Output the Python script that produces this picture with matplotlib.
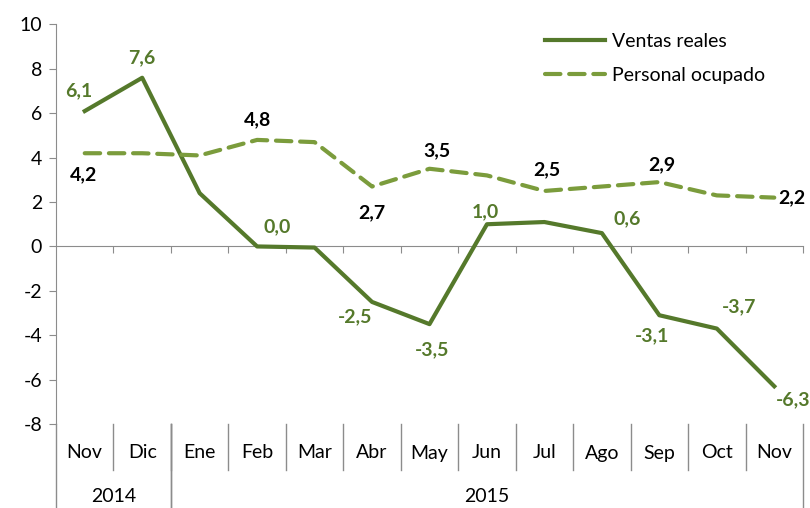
import matplotlib
matplotlib.use("Agg")
import matplotlib.pyplot as plt
from matplotlib.lines import Line2D

plt.rcParams['font.family'] = ['Lato', 'DejaVu Sans']
plt.rcParams['axes.unicode_minus'] = False

# datos
meses = ["Nov", "Dic", "Ene", "Feb", "Mar", "Abr", "May", "Jun", "Jul", "Ago", "Sep", "Oct", "Nov"]
anios = ["2014", "2015"]
meses_por_anio = [2, 11]
ventas = [6.1, 7.6, 2.4, 0.0, -0.05, -2.5, -3.5, 1.0, 1.1, 0.6, -3.1, -3.7, -6.3]
personal = [4.2, 4.2, 4.1, 4.8, 4.7, 2.7, 3.5, 3.2, 2.5, 2.7, 2.9, 2.3, 2.2]

# etiquetas visibles: indice -> desplazamiento en pixeles
et_ventas = {0: (-6, 20), 1: (0, 20), 3: (20, 20), 5: (-17, -15), 6: (3, -26),
             7: (-2, 12), 9: (25, 14), 10: (-7, -21), 11: (22, 22), 12: (19, -13)}
et_personal = {0: (-1, -22), 3: (0, 20), 5: (0, -26), 6: (7, 18), 8: (2, 21),
               10: (2, 17), 12: (18, 0)}

c_ventas = "#55792B"
c_personal = "#7B9C3C"
c_eje = "#8C8C8C"
fs = 14

fig = plt.figure(figsize=(8.1, 5.08), dpi=100)
ax = fig.add_axes([56 / 810, 1 - 424 / 508, 747 / 810, 399.5 / 508])

x = list(range(len(meses)))
ax.plot(x, ventas, color=c_ventas, lw=3, solid_joinstyle='round', clip_on=False, zorder=3)
ax.plot(x, personal, color=c_personal, lw=3, dashes=(3.7, 2.1), dash_capstyle='round',
        clip_on=False, zorder=3)

px = 72 / 100
for i, (dx, dy) in et_ventas.items():
    ax.annotate(f"{ventas[i]:.1f}".replace(".", ","), (i, ventas[i]),
                xytext=(dx * px, dy * px), textcoords='offset points',
                ha='center', va='center', fontsize=fs, fontweight='bold', color=c_ventas)
for i, (dx, dy) in et_personal.items():
    ax.annotate(f"{personal[i]:.1f}".replace(".", ","), (i, personal[i]),
                xytext=(dx * px, dy * px), textcoords='offset points',
                ha='center', va='center', fontsize=fs, fontweight='bold', color='black')

ax.set_xlim(-0.5, len(meses) - 0.5)
ax.set_ylim(-8, 10)
ax.set_yticks(range(-8, 11, 2))
ax.tick_params(axis='y', direction='out', length=5, color=c_eje, labelsize=fs, pad=5)
for s in ['top', 'right']:
    ax.spines[s].set_visible(False)
ax.spines['left'].set_color(c_eje)
ax.spines['bottom'].set_color(c_eje)
ax.spines['bottom'].set_position(('data', 0))
ax.set_xticks([b + 0.5 for b in range(len(meses))])
ax.tick_params(axis='x', direction='out', length=5, color=c_eje, labelbottom=False)

# eje de categorias en dos niveles
h = 399.5
for i, m in enumerate(meses):
    ax.text(i, -29 / h, m, transform=ax.get_xaxis_transform(), ha='center', va='center',
            fontsize=fs)
for b in range(1, len(meses)):
    ax.add_line(Line2D([b - 0.5, b - 0.5], [0, -46 / h], transform=ax.get_xaxis_transform(),
                       color=c_eje, lw=1, clip_on=False))
inicio = -0.5
for a, n in zip(anios, meses_por_anio):
    fin = inicio + n
    ax.text((inicio + fin) / 2, -73 / h, a, transform=ax.get_xaxis_transform(),
            ha='center', va='center', fontsize=fs)
    for xb in (inicio, fin):
        ax.add_line(Line2D([xb, xb], [0, -90 / h], transform=ax.get_xaxis_transform(),
                           color=c_eje, lw=1, clip_on=False))
    inicio = fin

handles = [Line2D([], [], color=c_ventas, lw=3),
           Line2D([], [], color=c_personal, lw=3, dashes=(3.7, 2.1), dash_capstyle='round')]
ax.legend(handles, ["Ventas reales", "Personal ocupado"], loc='upper left',
          bbox_to_anchor=(545 / 810, 1 - 33 / 508), bbox_transform=fig.transFigure,
          frameon=False, fontsize=fs, handlelength=3.1, handletextpad=0.35,
          labelspacing=0.85, borderpad=0, borderaxespad=0)

fig.savefig("out.png", dpi=100)
